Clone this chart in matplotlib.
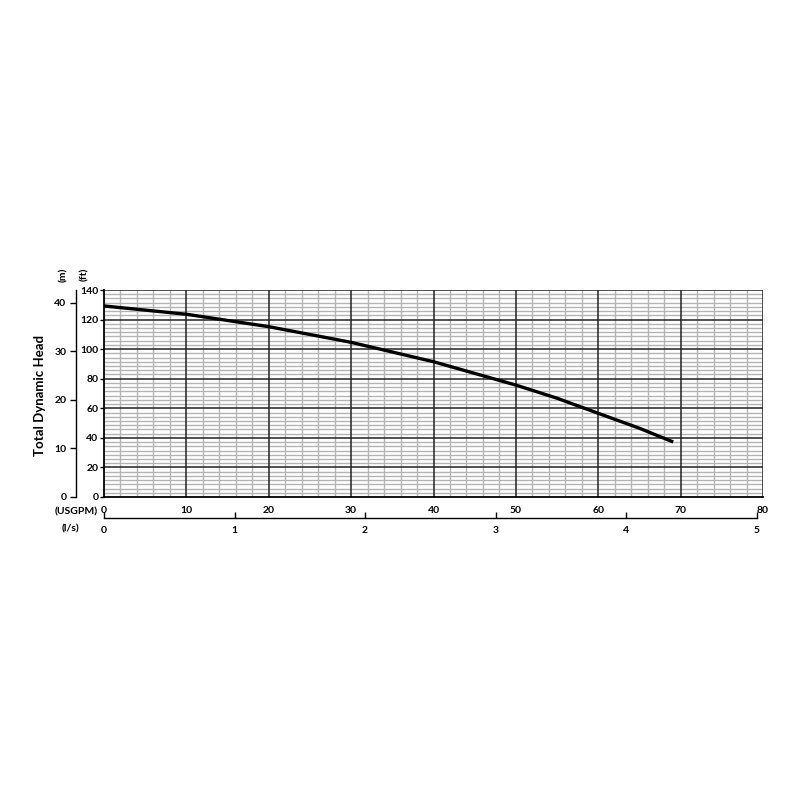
import numpy as np
import matplotlib.pyplot as plt
from matplotlib.ticker import MultipleLocator, AutoMinorLocator

plt.rcParams['font.family'] = ['Lato', 'DejaVu Sans']
plt.rcParams['font.weight'] = 'bold'

# pump curve: flow (USGPM) vs head (ft)
flow_usgpm = [0, 10, 20, 30, 40, 45, 50, 55, 60, 65, 69.1]
head_ft = [129.2, 123.6, 115.2, 104.6, 91.5, 83.6, 75.7, 66.8, 56.6, 46.5, 37.2]

usgpm_ticks = [0, 10, 20, 30, 40, 50, 60, 70, 80]
ft_ticks = [0, 20, 40, 60, 80, 100, 120, 140]
m_ticks = [0, 10, 20, 30, 40]
ls_ticks = [0, 1, 2, 3, 4, 5]

GPM_PER_LS = 15.850
M_PER_FT = 0.3048
FS = 7.5

fig = plt.figure(figsize=(8, 8), dpi=100)
ax = fig.add_axes([0.13, 0.37875, 0.82375, 0.25875])

ax.set_xlim(0, 80)
ax.set_ylim(0, 140)
ax.set_xticks(usgpm_ticks)
ax.set_yticks(ft_ticks)
ax.xaxis.set_minor_locator(MultipleLocator(2))
ax.yaxis.set_minor_locator(AutoMinorLocator(7))

# light grid first, dark major lines on top of it
ax.grid(which='minor', color='#b4b4b4', lw=1.0, zorder=0.5)
ax.set_axisbelow(True)
for v in usgpm_ticks[1:]:
    ax.axvline(v, color='#222222', lw=1.1, zorder=1)
for h in ft_ticks[1:]:
    ax.axhline(h, color='#222222', lw=1.1, zorder=1)

for s in ax.spines.values():
    s.set_visible(False)
ax.spines['left'].set_visible(True)
ax.spines['bottom'].set_visible(True)
ax.spines['left'].set_linewidth(1.3)
ax.spines['bottom'].set_linewidth(1.3)

ax.tick_params(axis='x', which='both', length=0, labelsize=FS, pad=6.5)
ax.tick_params(axis='y', which='major', length=3, width=1, labelsize=FS, pad=1)
ax.tick_params(axis='y', which='minor', length=0)

ax.plot(flow_usgpm, head_ft, color='black', lw=2.4, solid_capstyle='butt', zorder=3)

# metre scale on the left
sec_m = ax.secondary_yaxis(-0.0425, functions=(lambda f: f * M_PER_FT, lambda m: m / M_PER_FT))
sec_m.set_yticks(m_ticks)
sec_m.tick_params(length=4, width=1, labelsize=FS, pad=3)
sec_m.spines['left'].set_linewidth(1.0)

# l/s scale under the flow axis
sec_ls = ax.secondary_xaxis(-0.101, functions=(lambda q: q / GPM_PER_LS, lambda l: l * GPM_PER_LS))
sec_ls.set_xticks(ls_ticks)
sec_ls.tick_params(direction='in', length=4, width=1, labelsize=FS, pad=6)
sec_ls.spines['bottom'].set_linewidth(1.0)
sec_ls.spines['bottom'].set_bounds(0, 5)

fig.text(0.05, 0.505, 'Total Dynamic Head', rotation=90, ha='center', va='center',
         fontsize=9.5, fontweight='bold')
fig.text(0.079, 0.657, '(m)', rotation=90, ha='center', va='center', fontsize=FS)
fig.text(0.106, 0.657, '(ft)', rotation=90, ha='center', va='center', fontsize=FS)
fig.text(0.095, 0.36, '(USGPM)', ha='center', va='center', fontsize=FS)
fig.text(0.0875, 0.3385, '(l/s)', ha='center', va='center', fontsize=FS)

fig.savefig('out.png', dpi=100, facecolor='white')
